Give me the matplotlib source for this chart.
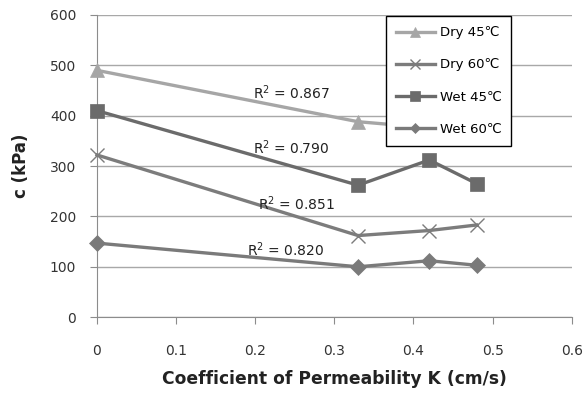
import matplotlib
matplotlib.use("Agg")
import matplotlib.pyplot as plt

# permeability K (cm/s) and cohesion c (kPa)
k_values = [0.0, 0.33, 0.42, 0.48]
dry_45 = [490, 388, 376, 370]
dry_60 = [322, 162, 172, 183]
wet_45 = [410, 262, 312, 265]
wet_60 = [147, 100, 112, 103]

r2_labels = ["R$^2$ = 0.867", "R$^2$ = 0.790", "R$^2$ = 0.851", "R$^2$ = 0.820"]
r2_pos = [(0.197, 445), (0.197, 336), (0.204, 226), (0.189, 133)]

plt.rcParams["font.family"] = ["DejaVu Sans"]
plt.rcParams["mathtext.default"] = "regular"

fig = plt.figure(figsize=(5.84, 3.93), dpi=100)
ax = fig.add_axes([0.166, 0.193, 0.813, 0.769])

series = [
    ("Dry 45\u2103", dry_45, "#a6a6a6", "^", 10, 5),
    ("Dry 60\u2103", dry_60, "#7c7c7c", "x", 10, 3),
    ("Wet 45\u2103", wet_45, "#6b6b6b", "s", 10, 5),
    ("Wet 60\u2103", wet_60, "#7a7a7a", "D", 8, 4),
]
for label, vals, col, mk, ms, z in series:
    ax.plot(k_values, vals, color=col, lw=2.4, marker=mk, ms=ms,
            mew=1.0 if mk == "x" else 0.5, mec=col, mfc=col, label=label,
            zorder=z, clip_on=False)

for txt, (x, y) in zip(r2_labels, r2_pos):
    ax.text(x, y, txt, fontsize=10, color="#222222", va="center", ha="left",
            zorder=6)

ax.set_xlim(0, 0.6)
ax.set_ylim(0, 600)
ax.set_xticks([0, 0.1, 0.2, 0.3, 0.4, 0.5, 0.6])
ax.set_xticklabels(["0", "0.1", "0.2", "0.3", "0.4", "0.5", "0.6"])
ax.set_yticks(range(0, 601, 100))
ax.grid(axis="y", color="#a8a8a8", lw=1.0)
ax.set_axisbelow(True)
for s in ("top", "right"):
    ax.spines[s].set_visible(False)
for s in ("left", "bottom"):
    ax.spines[s].set_color("#8c8c8c")
ax.tick_params(axis="both", colors="#8c8c8c", length=5, labelcolor="#333333",
               labelsize=10)
ax.tick_params(axis="x", pad=14)
ax.tick_params(axis="y", pad=10)

ax.set_xlabel("Coefficient of Permeability K (cm/s)", fontsize=12.3,
              fontweight="bold", color="#222222", labelpad=9)
ax.set_ylabel("c (kPa)", fontsize=12, fontweight="bold", color="#222222",
              labelpad=14)

leg = ax.legend(loc="upper left", bbox_to_anchor=(0.608, 0.995), fontsize=9.5,
                frameon=True, fancybox=False, edgecolor="black",
                framealpha=1, facecolor="white", markerscale=0.7,
                labelspacing=1.45, handlelength=3.0, borderpad=0.75,
                handletextpad=0.35, borderaxespad=0)
leg.get_frame().set_linewidth(1.0)
leg.set_zorder(10)

fig.savefig("out.png", dpi=100)
